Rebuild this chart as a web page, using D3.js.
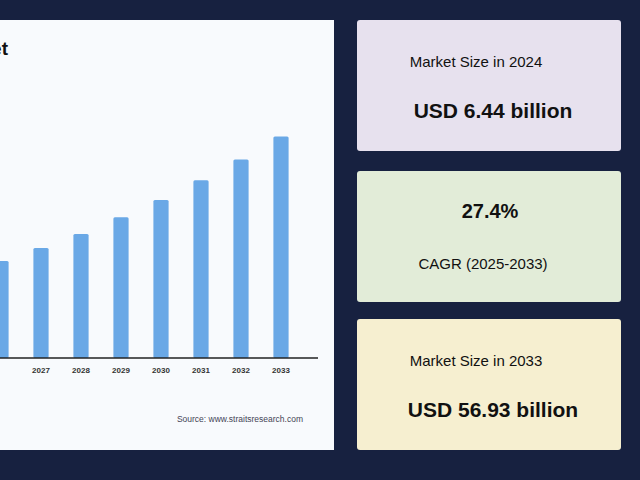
<!DOCTYPE html>
<html><head><meta charset="utf-8">
<script src="https://cdn.jsdelivr.net/npm/d3@7"></script>
<style>body{margin:0;background:#172140;font-family:"Liberation Sans",Arial,sans-serif}</style>
</head><body><svg id="c" width="640" height="480"></svg>
<script>
var years = ["2024", "2025", "2026", "2027", "2028", "2029", "2030", "2031", "2032", "2033"];
var values = [6.44, 8.2, 24.9, 28.3, 31.9, 36.2, 40.6, 45.7, 51.0, 56.93];
var cards = [
  {fill: "#e7e1ee", top: "Market Size in 2024", bottom: "USD 6.44 billion", boldFirst: false, tx: 119, bx: 136},
  {fill: "#e2ecd8", top: "27.4%", bottom: "CAGR (2025-2033)", boldFirst: true, tx: 133, bx: 126},
  {fill: "#f6efd0", top: "Market Size in 2033", bottom: "USD 56.93 billion", boldFirst: false, tx: 119, bx: 136}
];

var svg = d3.select("#c");
svg.append("rect").attr("width", 640).attr("height", 480).attr("fill", "#172140");

// chart panel (cut off at the left edge)
svg.append("rect").attr("x", -10).attr("y", 20).attr("width", 344).attr("height", 430).attr("fill", "#f8fafd");
var g = svg.append("g");
var x = d3.scaleBand().domain(years).range([-86.6, 288.6]).paddingInner(0.62).paddingOuter(0);
var y = d3.scaleLinear().domain([0, 56.93]).range([358, 136.5]);

g.selectAll("rect.bar").data(years).enter().append("rect")
  .attr("class", "bar")
  .attr("x", function(d) { return x(d); })
  .attr("width", x.bandwidth())
  .attr("y", function(d, i) { return y(values[i]); })
  .attr("height", function(d, i) { return 358 - y(values[i]); })
  .attr("rx", 1.5)
  .attr("fill", "#6aa8e6");

g.append("line").attr("x1", -10).attr("x2", 318).attr("y1", 358).attr("y2", 358)
  .attr("stroke", "#222").attr("stroke-width", 1.3);

g.selectAll("text.yr").data(years.filter(function(d) { return x(d) > -5; })).enter().append("text")
  .attr("x", function(d) { return x(d) + x.bandwidth() / 2; })
  .attr("y", 373).attr("text-anchor", "middle")
  .attr("font-size", 8).attr("font-weight", "bold").attr("fill", "#333")
  .text(function(d) { return d; });

svg.append("text").attr("x", 8).attr("y", 55).attr("text-anchor", "end")
  .attr("font-size", 19).attr("font-weight", "bold").attr("fill", "#111").text("Market");

svg.append("text").attr("x", 303).attr("y", 422).attr("text-anchor", "end")
  .attr("font-size", 8.5).attr("fill", "#445").text("Source: www.straitsresearch.com");

// KPI cards
var cardTop = [20, 171, 319];
var cg = svg.selectAll("g.card").data(cards).enter().append("g").attr("class", "card")
  .attr("transform", function(d, i) { return "translate(357," + cardTop[i] + ")"; });
cg.append("rect").attr("width", 264).attr("height", 131).attr("rx", 3)
  .attr("fill", function(d) { return d.fill; });
cg.append("text").attr("x", function(d) { return d.tx; }).attr("y", 47).attr("text-anchor", "middle")
  .attr("font-size", function(d) { return d.boldFirst ? 20 : 15; })
  .attr("font-weight", function(d) { return d.boldFirst ? "bold" : "normal"; })
  .attr("fill", "#111").text(function(d) { return d.top; });
cg.append("text").attr("x", function(d) { return d.bx; }).attr("y", 98).attr("text-anchor", "middle")
  .attr("font-size", function(d) { return d.boldFirst ? 15 : 21; })
  .attr("font-weight", function(d) { return d.boldFirst ? "normal" : "bold"; })
  .attr("fill", "#111").text(function(d) { return d.bottom; });
</script></body></html>
